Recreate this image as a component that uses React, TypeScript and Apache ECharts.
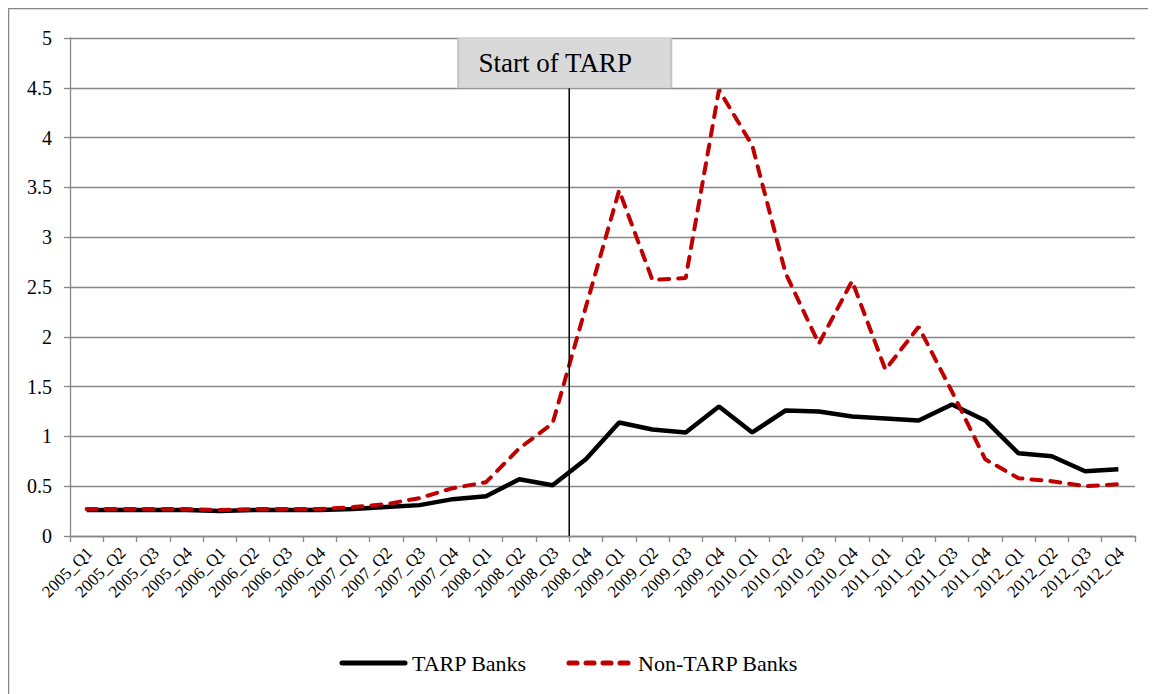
import React, { useEffect, useRef } from "react";
import * as echarts from "echarts";

const categories = [
  "2005_Q1", "2005_Q2", "2005_Q3", "2005_Q4",
  "2006_Q1", "2006_Q2", "2006_Q3", "2006_Q4",
  "2007_Q1", "2007_Q2", "2007_Q3", "2007_Q4",
  "2008_Q1", "2008_Q2", "2008_Q3", "2008_Q4",
  "2009_Q1", "2009_Q2", "2009_Q3", "2009_Q4",
  "2010_Q1", "2010_Q2", "2010_Q3", "2010_Q4",
  "2011_Q1", "2011_Q2", "2011_Q3", "2011_Q4",
  "2012_Q1", "2012_Q2", "2012_Q3", "2012_Q4",
];

const tarpBanks = [
  0.26, 0.26, 0.26, 0.26, 0.25, 0.26, 0.26, 0.26,
  0.27, 0.29, 0.31, 0.37, 0.40, 0.57, 0.51, 0.77,
  1.14, 1.07, 1.04, 1.30, 1.04, 1.26, 1.25, 1.20,
  1.18, 1.16, 1.32, 1.16, 0.83, 0.80, 0.65, 0.67,
];

const nonTarpBanks = [
  0.27, 0.27, 0.27, 0.27, 0.26, 0.27, 0.27, 0.27,
  0.29, 0.32, 0.38, 0.48, 0.54, 0.88, 1.13, 2.30,
  3.47, 2.57, 2.59, 4.48, 3.92, 2.64, 1.93, 2.56,
  1.67, 2.10, 1.45, 0.77, 0.58, 0.55, 0.50, 0.52,
];

const yTicks = [0, 0.5, 1, 1.5, 2, 2.5, 3, 3.5, 4, 4.5, 5];
const yTickLabels = ["0", "0.5", "1", "1.5", "2", "2.5", "3", "3.5", "4", "4.5", "5"];

const seriesNames = ["TARP Banks", "Non-TARP Banks"];

const tarpStartBoundary = 15;
const tarpLine = [
  [tarpStartBoundary, 0],
  [tarpStartBoundary, 5],
];
const annotationValue = 4.75;
const annotationText = "Start of TARP";

const FONT = "Liberation Serif";
const GRAY = "#878787";
const RED = "#c00000";

export default function App() {
  const ref = useRef<HTMLDivElement>(null);

  useEffect(() => {
    if (!ref.current) return;
    const chart = echarts.init(ref.current, null, { renderer: "svg" });
    const borders = [
      {
        type: "line",
        shape: { x1: 0.5, y1: 0, x2: 0.5, y2: 700 },
        style: { stroke: GRAY, lineWidth: 1.5 },
        silent: true,
      },
      {
        type: "line",
        shape: { x1: 0, y1: 0.5, x2: 1200, y2: 0.5 },
        style: { stroke: GRAY, lineWidth: 1.5 },
        silent: true,
      },
    ];
    chart.setOption({
      animation: false,
      backgroundColor: "#ffffff",
      grid: { left: 62, right: 21, top: 30, bottom: 158 },
      xAxis: [
        {
          type: "category",
          data: categories,
          boundaryGap: true,
          axisLine: { show: true, lineStyle: { color: GRAY, width: 1.3 } },
          axisTick: { show: true, interval: 0, length: 6, lineStyle: { color: GRAY, width: 1.3 } },
          axisLabel: { show: false },
          splitLine: { show: false },
        },
        { type: "value", min: 0, max: 32, show: false, splitLine: { show: false } },
      ],
      yAxis: {
        type: "value",
        min: 0,
        max: 5,
        interval: 0.5,
        axisLine: { show: true, lineStyle: { color: GRAY, width: 1.3 } },
        axisTick: { show: true, length: 6, lineStyle: { color: GRAY, width: 1.3 } },
        axisLabel: { show: false },
        splitLine: { show: true, lineStyle: { color: GRAY, width: 1.3 } },
      },
      graphic: borders,
      series: [
        {
          name: seriesNames[0],
          type: "line",
          data: tarpBanks,
          symbol: "none",
          lineStyle: { color: "#000", width: 4.5 },
          itemStyle: { color: "#000" },
        },
        {
          name: seriesNames[1],
          type: "line",
          data: nonTarpBanks,
          symbol: "none",
          lineStyle: { color: RED, width: 4, type: [10, 9], cap: "round" },
          itemStyle: { color: RED },
        },
        {
          name: "tarpStart",
          type: "line",
          xAxisIndex: 1,
          data: tarpLine,
          symbol: "none",
          silent: true,
          lineStyle: { color: "#000", width: 1.5 },
          markPoint: {
            silent: true,
            symbol: "rect",
            symbolSize: [213, 50],
            symbolOffset: [-4.5, 0],
            itemStyle: { color: "#d9d9d9", borderColor: "#c4c4c4", borderWidth: 1 },
            label: { show: false },
            data: [{ coord: [tarpStartBoundary, annotationValue] }],
          },
        },
      ],
    });

    const axisY = chart.convertToPixel({ yAxisIndex: 0 }, 0) as number;
    const gridLeft = chart.convertToPixel({ xAxisIndex: 1 }, 0) as number;
    const texts: any[] = [];
    categories.forEach((c) => {
      const cx = chart.convertToPixel({ xAxisIndex: 0 }, c) as number;
      texts.push({
        type: "text",
        x: cx + 3,
        y: axisY + 14,
        rotation: Math.PI / 4,
        silent: true,
        style: {
          text: c,
          fontFamily: FONT,
          fontSize: 17,
          fill: "#000",
          align: "right",
          verticalAlign: "middle",
        },
      });
    });
    yTicks.forEach((v, i) => {
      const py = chart.convertToPixel({ yAxisIndex: 0 }, v) as number;
      texts.push({
        type: "text",
        x: gridLeft - 18,
        y: py,
        silent: true,
        style: {
          text: yTickLabels[i],
          fontFamily: FONT,
          fontSize: 20,
          fill: "#000",
          align: "right",
          verticalAlign: "middle",
        },
      });
    });
    const boxX = chart.convertToPixel({ xAxisIndex: 1 }, tarpStartBoundary) as number;
    const boxY = chart.convertToPixel({ yAxisIndex: 0 }, annotationValue) as number;
    texts.push({
      type: "text",
      x: boxX - 14,
      y: boxY,
      silent: true,
      z: 100,
      style: {
        text: annotationText,
        fontFamily: FONT,
        fontSize: 27,
        fill: "#000",
        align: "center",
        verticalAlign: "middle",
      },
    });
    const legendY = 655;
    texts.push(
      {
        type: "line",
        silent: true,
        shape: { x1: 334, y1: legendY, x2: 397, y2: legendY },
        style: { stroke: "#000", lineWidth: 5, lineCap: "round" },
      },
      {
        type: "text",
        x: 404,
        y: legendY,
        silent: true,
        style: { text: seriesNames[0], fontFamily: FONT, fontSize: 22, fill: "#000", align: "left", verticalAlign: "middle" },
      },
      {
        type: "line",
        silent: true,
        shape: { x1: 561, y1: legendY, x2: 623, y2: legendY },
        style: { stroke: RED, lineWidth: 5, lineCap: "round", lineDash: [8, 9] },
      },
      {
        type: "text",
        x: 630,
        y: legendY,
        silent: true,
        style: { text: seriesNames[1], fontFamily: FONT, fontSize: 22, fill: "#000", align: "left", verticalAlign: "middle" },
      }
    );
    chart.setOption({ graphic: [...borders, ...texts] });
    return () => chart.dispose();
  }, []);

  return <div ref={ref} style={{ width: 1148, height: 686 }} />;
}
